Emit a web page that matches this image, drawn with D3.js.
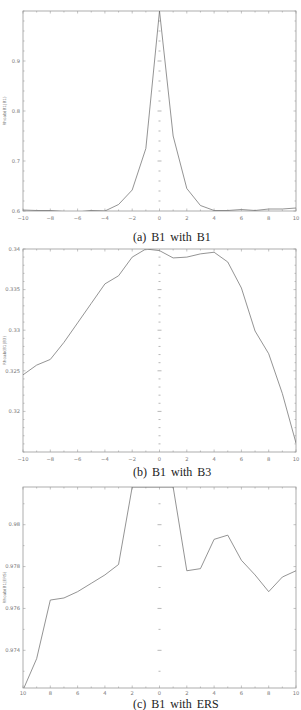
<!DOCTYPE html>
<html><head><meta charset="utf-8">
<script src="https://cdn.jsdelivr.net/npm/d3@7"></script>
<style>
html,body{margin:0;padding:0;background:#fff;}
svg{display:block;}
</style></head>
<body>
<svg id="c" width="301" height="710"></svg>
<script>
// ---- data ----
const shifts = [-10,-9,-8,-7,-6,-5,-4,-3,-2,-1,0,1,2,3,4,5,6,7,8,9,10];
const seriesA = [0.602,0.601,0.601,0.599,0.598,0.601,0.600,0.613,0.642,0.725,1.0,0.750,0.645,0.611,0.601,0.601,0.603,0.601,0.604,0.604,0.606];
const seriesB = [0.3245,0.3257,0.3264,0.3285,0.3309,0.3333,0.3357,0.3367,0.3390,0.3400,0.3398,0.3389,0.3390,0.3394,0.3396,0.3384,0.3352,0.3299,0.3271,0.3222,0.3161];
const seriesC = [0.9721,0.9736,0.9764,0.9765,0.9768,0.9772,0.9776,0.9781,0.9818,0.9818,0.9818,0.9818,0.9778,0.9779,0.9793,0.9795,0.9783,0.9776,0.9768,0.9775,0.9778];
const xTicks = [-10,-8,-6,-4,-2,0,2,4,6,8,10];
const xTickLabelsAB = ["\u221210","\u22128","\u22126","\u22124","\u22122","0","2","4","6","8","10"];
const xTickLabelsC = ["10","8","6","4","2","0","2","4","6","8","10"];
const yTicksA = [0.6,0.7,0.8,0.9];
const yTickLabelsA = ["0.6","0.7","0.8","0.9"];
const yTicksB = [0.34,0.335,0.33,0.325,0.32];
const yTickLabelsB = ["0.34","0.335","0.33","0.325","0.32"];
const yTicksC = [0.98,0.978,0.976,0.974];
const yTickLabelsC = ["0.98","0.978","0.976","0.974"];
const captions = ["(a) B1 with B1","(b) B1 with B3","(c) B1 with ERS"];
const yTitles = ["Rhoab(B1|B1)","Rhoab(B1|B3)","Rhoab(B1|ERS)"];

const svg = d3.select("#c");
const X0 = 23, X1 = 296;
const frameCol = "#9a9a9a", lineCol = "#707070", textCol = "#777";

function panel(cfg){
  const g = svg.append("g");
  const x = d3.scaleLinear().domain([-10,10]).range([X0,X1]);
  const y = d3.scaleLinear().domain(cfg.domain).range([cfg.bottom,cfg.top]);
  g.append("rect").attr("x",X0).attr("y",cfg.top).attr("width",X1-X0).attr("height",cfg.bottom-cfg.top)
    .attr("fill","none").attr("stroke",frameCol).attr("stroke-width",0.8);
  const xt = d3.range(-10,11,1);
  xt.forEach(v=>{
    const L = (v%2===0)?2.5:1.5;
    g.append("line").attr("x1",x(v)).attr("x2",x(v)).attr("y1",cfg.bottom).attr("y2",cfg.bottom-L).attr("stroke",frameCol).attr("stroke-width",0.6);
    g.append("line").attr("x1",x(v)).attr("x2",x(v)).attr("y1",cfg.top).attr("y2",cfg.top+L).attr("stroke",frameCol).attr("stroke-width",0.6);
  });
  const [d0,d1] = cfg.domain;
  const n = Math.round((d1-d0)/cfg.minor)+1;
  const start = Math.ceil(d0/cfg.minor - 1e-6)*cfg.minor;
  for(let i=0;i<n+1;i++){
    const v = start + i*cfg.minor;
    if(v>d1+1e-9) break;
    const isMajor = cfg.yTicks.some(t=>Math.abs(t-v)<cfg.minor/10);
    const L = isMajor?2.5:1.5;
    const yy = y(v);
    g.append("line").attr("x1",X0).attr("x2",X0+L).attr("y1",yy).attr("y2",yy).attr("stroke",frameCol).attr("stroke-width",0.6);
    g.append("line").attr("x1",X1).attr("x2",X1-L).attr("y1",yy).attr("y2",yy).attr("stroke",frameCol).attr("stroke-width",0.6);
    const C = isMajor?2:1;
    if(yy>cfg.top+1 && yy<cfg.bottom-1)
      g.append("line").attr("x1",x(0)-C).attr("x2",x(0)+C).attr("y1",yy).attr("y2",yy).attr("stroke",frameCol).attr("stroke-width",0.7);
  }
  cfg.yTicks.forEach((t,i)=>{
    g.append("text").attr("x",X0-3).attr("y",y(t)+1.8).attr("text-anchor","end")
      .attr("font-family","DejaVu Sans, sans-serif").attr("font-size",5.2).attr("fill",textCol).text(cfg.yLabels[i]);
  });
  xTicks.forEach((t,i)=>{
    g.append("text").attr("x",x(t)).attr("y",cfg.bottom+cfg.xLabelDy).attr("text-anchor","middle")
      .attr("font-family","DejaVu Sans, sans-serif").attr("font-size",5.2).attr("fill",textCol).text(cfg.xLabels[i]);
  });
  const cy = (cfg.top+cfg.bottom)/2;
  g.append("text").attr("transform",`translate(5.5,${cy}) rotate(-90)`).attr("text-anchor","middle")
    .attr("font-family","DejaVu Sans, sans-serif").attr("font-size",4.2).attr("fill",textCol).text(cfg.yTitle);
  const clipId = "clip"+cfg.id;
  svg.append("clipPath").attr("id",clipId).append("rect").attr("x",X0).attr("y",cfg.top).attr("width",X1-X0).attr("height",cfg.bottom-cfg.top);
  const line = d3.line().x((d,i)=>x(shifts[i])).y(d=>y(d));
  g.append("path").datum(cfg.data).attr("d",line).attr("fill","none").attr("stroke",lineCol).attr("stroke-width",0.75)
    .attr("clip-path",`url(#${clipId})`);
  g.append("text").attr("x",133).attr("y",cfg.capY).attr("font-family","Liberation Serif, Times New Roman, serif")
    .attr("font-size",12).attr("word-spacing",2).attr("fill","#222").text(cfg.caption);
}

panel({id:"a",data:seriesA,domain:[0.6,1.0],top:11,bottom:211,minor:0.02,yTicks:yTicksA,yLabels:yTickLabelsA,
  xLabels:xTickLabelsAB,xLabelDy:8.5,yTitle:yTitles[0],caption:captions[0],capY:241});
panel({id:"b",data:seriesB,domain:[0.315,0.34],top:249,bottom:452,minor:0.001,yTicks:yTicksB,yLabels:yTickLabelsB,
  xLabels:xTickLabelsAB,xLabelDy:8.5,yTitle:yTitles[1],caption:captions[1],capY:476});
panel({id:"c",data:seriesC,domain:[0.9722,0.9818],top:487,bottom:688,minor:0.001,yTicks:yTicksC,yLabels:yTickLabelsC,
  xLabels:xTickLabelsC,xLabelDy:6.5,yTitle:yTitles[2],caption:captions[2],capY:708});
</script>
</body></html>
